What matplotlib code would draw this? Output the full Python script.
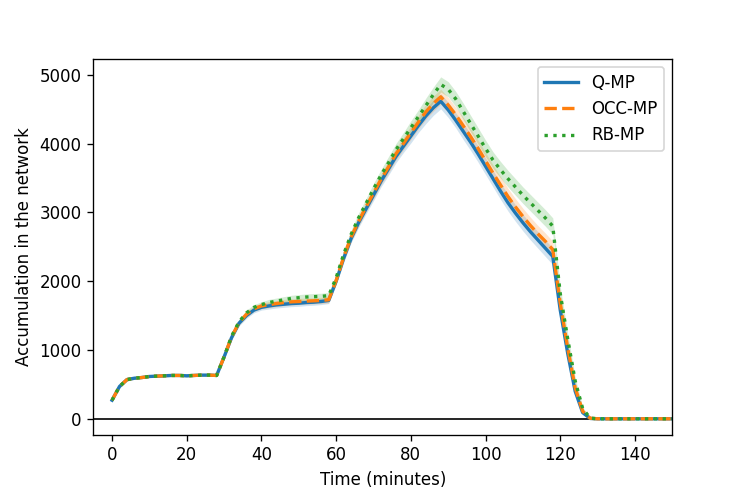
import numpy as np
from matplotlib import pyplot as plt

time = np.arange(0, 152, 2)
tail = [0] * 11

q_mp = [270, 470, 570, 590, 600, 615, 620, 625, 630, 630, 625, 630, 635, 635, 630,
        900, 1180, 1390, 1500, 1580, 1620, 1640, 1655, 1665, 1675, 1680, 1690, 1695, 1705, 1720,
        2000, 2330, 2620, 2850, 3050, 3250, 3450, 3630, 3810, 3960, 4110, 4260, 4400, 4520, 4615,
        4490, 4340, 4180, 4020, 3850, 3670, 3490, 3310, 3140, 2990, 2850, 2720, 2600, 2480, 2360,
        1580, 950, 400, 90, 5] + tail
occ_mp = [270, 470, 570, 590, 600, 615, 620, 625, 630, 630, 625, 630, 635, 635, 630,
          900, 1190, 1400, 1520, 1600, 1640, 1660, 1675, 1690, 1700, 1705, 1710, 1715, 1720, 1730,
          2010, 2350, 2640, 2870, 3080, 3280, 3480, 3660, 3850, 4000, 4160, 4310, 4460, 4580, 4680,
          4560, 4420, 4260, 4100, 3930, 3750, 3570, 3400, 3230, 3080, 2940, 2810, 2690, 2580, 2460,
          1680, 1030, 450, 110, 8] + tail
rb_mp = [270, 470, 570, 590, 600, 615, 620, 625, 630, 630, 625, 630, 635, 635, 630,
         900, 1200, 1410, 1540, 1620, 1660, 1690, 1710, 1730, 1750, 1760, 1770, 1775, 1780, 1790,
         2050, 2390, 2680, 2920, 3130, 3340, 3540, 3720, 3910, 4070, 4230, 4390, 4550, 4710, 4860,
         4790, 4650, 4470, 4290, 4110, 3930, 3760, 3620, 3490, 3370, 3250, 3140, 3030, 2920, 2800,
         1820, 1160, 550, 150, 10] + tail
# half width of the shaded bands
spread = [10, 20, 20, 15, 15, 15, 15, 15, 15, 15, 15, 15, 15, 15, 15,
          30, 40, 40, 40, 40, 40, 45, 45, 45, 45, 45, 45, 45, 45, 45,
          50, 60, 60, 70, 70, 80, 80, 90, 90, 90, 100, 100, 110, 110, 110,
          110, 110, 120, 120, 120, 120, 120, 120, 120, 120, 120, 120, 120, 120, 120,
          100, 80, 50, 20, 5] + tail

series = [('Q-MP', q_mp, '-', 'C0'),
          ('OCC-MP', occ_mp, '--', 'C1'),
          ('RB-MP', rb_mp, ':', 'C2')]

fig = plt.figure(figsize=(6.225, 4.15), dpi=120)
ax = fig.add_subplot(111)
fig.subplots_adjust(left=0.125, right=0.9, top=0.882, bottom=0.127)

ax.axhline(0, color='black', linewidth=1)
sp = np.array(spread)
for name, vals, ls, col in series:
    v = np.array(vals)
    ax.fill_between(time, v - sp, v + sp, color=col, alpha=0.2, linewidth=0)
    ax.plot(time, v, linestyle=ls, color=col, label=name, linewidth=2)

ax.set_xlim(-5, 150)
ax.set_ylim(-232, 5233)
ax.set_xlabel('Time (minutes)')
ax.set_ylabel('Accumulation in the network')
ax.legend(loc='upper right')

plt.savefig('out.png')
